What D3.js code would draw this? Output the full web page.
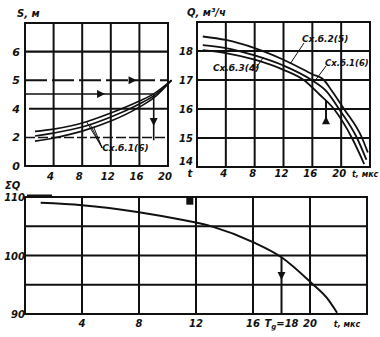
<!DOCTYPE html>
<html><head><meta charset="utf-8">
<script src="https://cdn.jsdelivr.net/npm/d3@7"></script>
<style>
body{margin:0;background:#fff}
text{font-family:"DejaVu Sans",sans-serif;font-style:italic;font-weight:bold;fill:#111}
</style>
</head><body><svg id="c" width="380" height="337"></svg>
<script>
// ---------- Panel A: S, м vs t ----------
const sTime   = [1.4, 4, 8, 12, 16, 18, 20.5];
const sCurve1 = [1.21, 1.29, 1.50, 1.85, 2.27, 2.52, 3.0];
const sCurve2 = [1.05, 1.15, 1.36, 1.71, 2.17, 2.45, 3.0];
const sCurve3 = [0.87, 0.98, 1.22, 1.57, 2.06, 2.38, 3.0];
const sTickValues = [0, 1, 2, 3, 4];
const sTickLabels = ["0", "2", "4", "5", "6"];
const tTicksA = [4, 8, 12, 16, 20];
const sLabel = "Сх.б.1(6)";

// ---------- Panel B: Q vs t ----------
const qTime1 = [0.8, 4, 8, 12, 16, 17.6, 18.5, 20.4, 22.9, 23.7];
const qCurve1 = [18.5, 18.38, 18.1, 17.7, 17.2, 17.0, 16.7, 16.0, 15.0, 14.5];   // Сх.б.2(5)
const qTime2 = [0.8, 4, 8, 12, 15.9, 18, 19.7, 22.2, 23.5];
const qCurve2 = [18.2, 18.1, 17.85, 17.5, 17.0, 16.6, 16.0, 15.0, 14.25];        // Сх.б.1(6)
const qTime3 = [0.8, 4, 8, 12, 14.8, 17, 19.0, 21.5, 23.2];
const qCurve3 = [18.03, 17.93, 17.7, 17.35, 17.0, 16.5, 16.0, 15.0, 14.1];       // Сх.б.3(4)
const qTicks = [18, 17, 16, 15, 14];
const tTicksB = [4, 8, 12, 16, 20];
const qLabels = ["Сх.б.2(5)", "Сх.б.1(6)", "Сх.б.3(4)"];

// ---------- Panel C: ΣQ vs t ----------
const sumTime = [1.1, 4, 8, 11, 13.2, 16, 18, 20.1, 21.2, 21.9];
const sumQ    = [109.0, 108.6, 107.4, 106.1, 104.9, 102.3, 99.7, 95.3, 92.7, 90.2];
const sumTicks = [110, 100, 90];
const sumGrid = [95, 100, 105];
const tTicksC = [4, 8, 12, 16, 20];
const Tg = 18;

const svg = d3.select("#c");
svg.append("rect").attr("width",380).attr("height",337).attr("fill","#fff");
const ink = "#111";

function arrow(g, x, y, dir) {
  const s = 4;
  let p;
  if (dir === "right") p = `M${x},${y} L${x-2*s},${y-s} L${x-2*s},${y+s} Z`;
  else if (dir === "down") p = `M${x},${y} L${x-s},${y-2*s} L${x+s},${y-2*s} Z`;
  else p = `M${x},${y} L${x-s},${y+2*s} L${x+s},${y+2*s} Z`;
  g.append("path").attr("d", p).attr("fill", ink);
}
function hline(g, x1, x2, y, w, dash) {
  g.append("line").attr("x1",x1).attr("x2",x2).attr("y1",y).attr("y2",y)
   .attr("stroke",ink).attr("stroke-width",w||2).attr("stroke-dasharray",dash||null);
}
function vline(g, x, y1, y2, w, dash) {
  g.append("line").attr("x1",x).attr("x2",x).attr("y1",y1).attr("y2",y2)
   .attr("stroke",ink).attr("stroke-width",w||2).attr("stroke-dasharray",dash||null);
}
function txt(g, x, y, s, size, anchor) {
  return g.append("text").attr("x",x).attr("y",y).attr("font-size",size||10)
   .attr("text-anchor",anchor||"middle").text(s);
}

// ================= Panel A =================
{
  const g = svg.append("g");
  const x = d3.scaleLinear().domain([0, 20]).range([25, 168]);
  const y = d3.scaleLinear().domain([0, 5]).range([166, 23]);
  [4,8,12,16].forEach(t => vline(g, x(t), y(5), y(0), 2));
  hline(g, x(0), x(20), y(1), 1.5, "10,3");
  hline(g, x(0)+4, x(20), y(2), 2);
  hline(g, x(0), x(20), y(3), 2, "22,5");
  hline(g, x(0), x(20), y(4), 2.2);
  g.append("rect").attr("x",x(0)).attr("y",y(5)).attr("width",x(20)-x(0)).attr("height",y(0)-y(5))
   .attr("fill","none").attr("stroke",ink).attr("stroke-width",2);
  sTickValues.forEach((v,i) => txt(g, 20, y(v)+4, sTickLabels[i], 11, "end"));
  tTicksA.forEach(t => txt(g, x(t)-3, 180, String(t), 10));
  txt(g, 17, 17, "S, м", 10, "start");
  const line = d3.line().x(d=>x(d[0])).y(d=>y(d[1])).curve(d3.curveMonotoneX);
  [sCurve1, sCurve2, sCurve3].forEach(c => {
    g.append("path").attr("d", line(sTime.map((t,i)=>[t,c[i]])))
     .attr("fill","none").attr("stroke",ink).attr("stroke-width",1.6);
  });
  const yh = y(2.52);
  hline(g, x(0), x(18), yh, 1.6);
  arrow(g, x(11.2), yh, "right");
  arrow(g, x(15.6), y(3), "right");
  vline(g, x(18), yh, y(0.9), 1.6);
  arrow(g, x(18), y(1.4), "down");
  const lx = x(10.8), ly = 148;
  [[8.6, sCurve1],[9.1, sCurve2],[9.6, sCurve3]].forEach(([t,c]) => {
    const v = d3.scaleLinear().domain(sTime).range(c)(t);
    g.append("line").attr("x1",x(t)).attr("y1",y(v)).attr("x2",lx).attr("y2",ly)
     .attr("stroke",ink).attr("stroke-width",1);
  });
  txt(g, lx, ly+3, sLabel, 9, "start");
}

// ================= Panel B =================
{
  const g = svg.append("g");
  const x = d3.scaleLinear().domain([0, 24]).range([197, 370]);
  const y = d3.scaleLinear().domain([14, 19]).range([167, 22]);
  [4,8,12,16,20].forEach(t => vline(g, x(t), y(19), y(14), 2));
  [15,16,17,18].forEach(q => hline(g, x(0), x(24), y(q), 2));
  g.append("rect").attr("x",x(0)).attr("y",y(19)).attr("width",x(24)-x(0)).attr("height",y(14)-y(19))
   .attr("fill","none").attr("stroke",ink).attr("stroke-width",2);
  qTicks.forEach(q => txt(g, 193, (q===14? y(q)-2 : y(q)+4), String(q), 10, "end"));
  txt(g, 190, 177, "t", 10);
  tTicksB.forEach(t => txt(g, x(t)-2, 177, String(t), 10));
  txt(g, 352, 177, "t, мкс", 8, "start");
  txt(g, 187, 16, "Q, м³/ч", 10, "start");
  const line = d3.line().x(d=>x(d[0])).y(d=>y(d[1])).curve(d3.curveMonotoneX);
  [[qTime1,qCurve1],[qTime2,qCurve2],[qTime3,qCurve3]].forEach(([ts,c]) => {
    g.append("path").attr("d", line(ts.map((t,i)=>[t,c[i]])))
     .attr("fill","none").attr("stroke",ink).attr("stroke-width",1.8);
  });
  const qAt = d3.scaleLinear().domain(qTime3).range(qCurve3);
  vline(g, x(17.9), y(qAt(17.9)) , y(15.5), 2);
  arrow(g, x(17.9), y(15.75), "up");
  const lead = (t, q, lx, ly) => g.append("line").attr("x1",x(t)).attr("y1",y(q)).attr("x2",lx).attr("y2",ly)
      .attr("stroke",ink).attr("stroke-width",1);
  lead(12.9, 17.55, 304, 43);
  txt(g, 302, 42, qLabels[0], 9, "start");
  lead(16.3, 16.95, 326, 66);
  txt(g, 325, 66, qLabels[1], 8.5, "start");
  lead(9.2, 17.78, 256, 68);
  txt(g, 213, 71, qLabels[2], 9, "start");
}

// ================= Panel C =================
{
  const g = svg.append("g");
  const x = d3.scaleLinear().domain([0, 24]).range([25, 367]);
  const y = d3.scaleLinear().domain([90, 110]).range([314, 197]);
  tTicksC.forEach(t => vline(g, x(t), y(110), y(90), 2));
  sumGrid.forEach(q => hline(g, x(0), x(24), y(q), 2));
  g.append("rect").attr("x",x(0)).attr("y",y(110)).attr("width",x(24)-x(0)).attr("height",y(90)-y(110))
   .attr("fill","none").attr("stroke",ink).attr("stroke-width",2);
  hline(g, x(0)+2, x(1.9), y(110)-1, 3);
  sumTicks.forEach(q => txt(g, 25, y(q)+4, String(q), 10, "end"));
  txt(g, 5, 189, "ΣQ", 10, "start");
  tTicksC.forEach(t => txt(g, x(t), 327, String(t), 10));
  const tg = txt(g, x(Tg), 327, "", 10);
  tg.append("tspan").text("T");
  tg.append("tspan").attr("font-size",7).attr("dy",2).text("g");
  tg.append("tspan").attr("dy",-2).text("=18");
  txt(g, x(22.6), 327, "t, мкс", 8);
  const line = d3.line().x(d=>x(d[0])).y(d=>y(d[1])).curve(d3.curveMonotoneX);
  g.append("path").attr("d", line(sumTime.map((t,i)=>[t,sumQ[i]])))
   .attr("fill","none").attr("stroke",ink).attr("stroke-width",2);
  const qAt = d3.scaleLinear().domain(sumTime).range(sumQ);
  vline(g, x(Tg), y(qAt(Tg)), y(90), 2);
  arrow(g, x(Tg), y(95.8), "down");
  g.append("rect").attr("x",x(11.6)-4).attr("y",y(109.2)-4).attr("width",7).attr("height",7).attr("fill",ink);
}
</script>
</body></html>
